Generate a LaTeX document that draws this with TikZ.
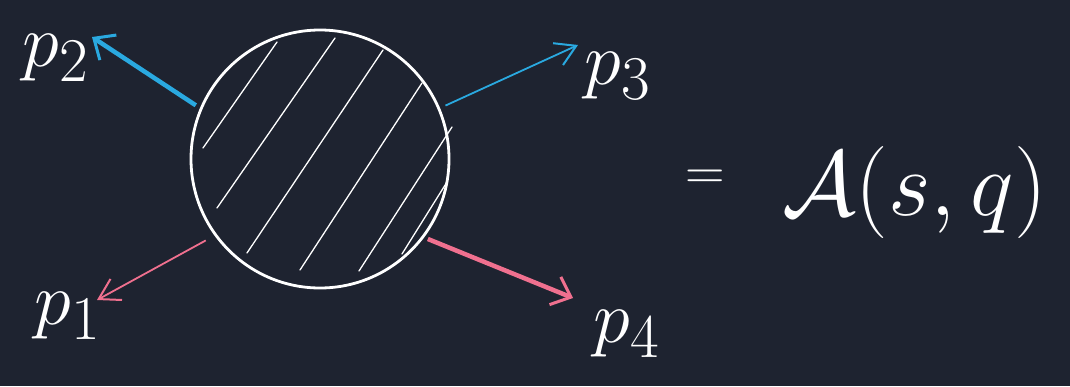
\documentclass[tikz,border=0pt]{standalone}
\usepackage{amsmath,amssymb}
\usepackage{graphicx}
\usepackage{xcolor}
\usetikzlibrary{arrows.meta}
\definecolor{cBoard}{HTML}{1E2330}
\definecolor{cBlue}{HTML}{2AA9E0}
\definecolor{cPink}{HTML}{F0708F}
\newcommand{\bigLbl}[2]{\scalebox{#1}{\Huge #2}}
\tikzset{
  blob/.style={circle, draw=white, line width=2.8pt, minimum size=258pt, inner sep=0pt},
  hatchLine/.style={white, line width=1.3pt, line cap=round},
  momThick/.style={line width=4.5pt,
                   -{Straight Barb[length=17pt,width=30pt,line width=3pt]}},
  momThin/.style={line width=1.8pt,
                  -{Straight Barb[length=20pt,width=24pt,line width=2pt]}},
  momLbl/.style={text=white, inner sep=0pt},
  eqLbl/.style={text=white, inner sep=0pt},
}

\begin{document}
\begin{tikzpicture}[x=1pt, y=-1pt]

% ========== BOARD ==========
\fill[cBoard] (0,0) rectangle (1070,386);
\useasboundingbox (0,0) rectangle (1070,386);

% ========== BLOB ==========
\node[blob] (blob) at (320,159) {};
\foreach \xa/\ya/\xb/\yb in {203/148/277/42, 217/208/335/38, 247/253/383/50,
                             300/270/422/83, 359/271/452/127, 402/254/447/182}
  \draw[hatchLine] (\xa,\ya) -- (\xb,\yb);

% ========== MOMENTA ==========
\coordinate (tipTwo)   at (92,37);
\coordinate (tipThree) at (578,45);
\coordinate (tipOne)   at (97,300);
\coordinate (tipFour)  at (573,298);

\draw[momThick, cBlue, shorten <=5pt]  (blob.157) -- (tipTwo);
\draw[momThin,  cBlue, shorten <=6pt]  (blob.23)  -- (tipThree);
\draw[momThin,  cPink, shorten <=10pt] (blob.216) -- (tipOne);
\draw[momThick, cPink, shorten <=4pt]  (blob.323) -- (tipFour);

\node[momLbl] (pTwo)   at (56,58)   {\bigLbl{3.0}{$p_2$}};
\node[momLbl] (pThree) at (618,76)  {\bigLbl{3.0}{$p_3$}};
\node[momLbl] (pOne)   at (68,316)  {\bigLbl{3.0}{$p_1$}};
\node[momLbl] (pFour)  at (627,334) {\bigLbl{3.0}{$p_4$}};

% ========== AMPLITUDE ==========
\node[eqLbl] (eqSign) at (705,180) {\bigLbl{2.2}{$=$}};
\node[eqLbl, anchor=base west] (amp) at (782,215) {\bigLbl{3.7}{$\mathcal{A}(s,q)$}};

\end{tikzpicture}
\end{document}
